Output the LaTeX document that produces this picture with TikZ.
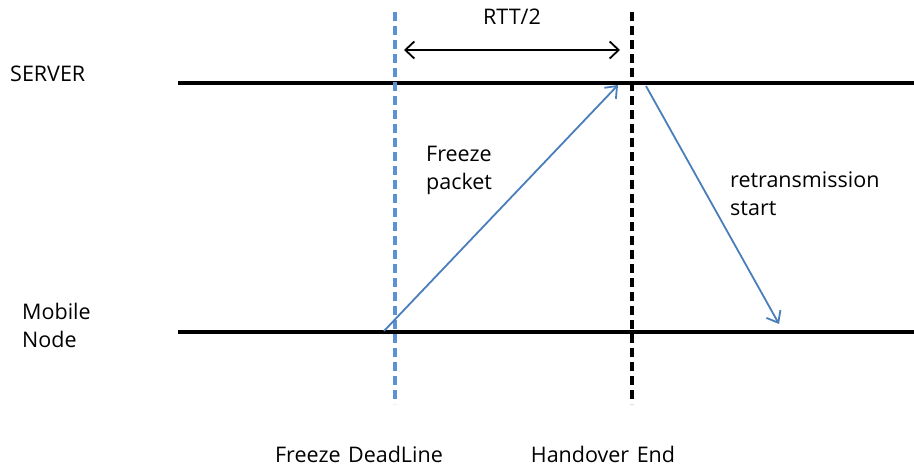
\documentclass[tikz,border=0pt]{standalone}
\usepackage{fontspec}
\setmainfont{Open Sans}
\usetikzlibrary{arrows.meta}
\definecolor{msgblue}{RGB}{74,126,187}
\definecolor{dlblue}{RGB}{91,146,214}
\begin{document}
\begin{tikzpicture}[x=1pt,y=-1pt,
  lifeline/.style={line width=4.6pt},
  marker/.style={line width=3.4pt,dash pattern=on 9pt off 5pt},
  msg/.style={draw=msgblue,line width=1.8pt,-{Straight Barb[length=10pt,width=16pt,line width=1.8pt]}},
  lbl/.style={font=\fontsize{21.5}{28}\selectfont,inner sep=0pt,align=left}]
\useasboundingbox (0,0) rectangle (914,469);
% time lines
\coordinate (s0) at (178,83);  \coordinate (s1) at (914,83);
\coordinate (m0) at (178,332); \coordinate (m1) at (914,332);
\draw[lifeline] (s0) -- (s1);
\draw[lifeline] (m0) -- (m1);
% deadline and handover markers
\coordinate (d0) at (395,12); \coordinate (d1) at (395,404);
\coordinate (h0) at (632,12); \coordinate (h1) at (632,404);
\draw[marker,draw=dlblue] (d0) -- (d1);
\draw[marker,draw=black] (h0) -- (h1);
% RTT/2 span
\coordinate (r0) at (404,50); \coordinate (r1) at (620,50);
\draw[line width=1.8pt,{Straight Barb[length=9pt,width=17pt,line width=1.8pt]}-{Straight Barb[length=9pt,width=17pt,line width=1.8pt]}] (r0) -- (r1);
\node[lbl,anchor=center] (rtt) at (512,17) {RTT/2};
% messages
\coordinate (f0) at (384,331); \coordinate (f1) at (618,85);
\draw[msg] (f0) -- (f1);
\coordinate (t0) at (646,86); \coordinate (t1) at (779,324);
\draw[msg] (t0) -- (t1);
% labels
\node[lbl,anchor=west] (server) at (10,74) {SERVER};
\node[lbl,anchor=north west] (mn) at (22,303) {Mobile\\Node};
\node[lbl,anchor=north west] (fp) at (426,146) {Freeze\\packet};
\node[lbl,anchor=north west] (rs) at (730,172) {retransmission\\start};
\node[lbl,anchor=center] (fd) at (359,454) {Freeze\hspace{0.35em}DeadLine};
\node[lbl,anchor=center] (he) at (603,454) {Handover\hspace{0.35em}End};
\end{tikzpicture}
\end{document}
